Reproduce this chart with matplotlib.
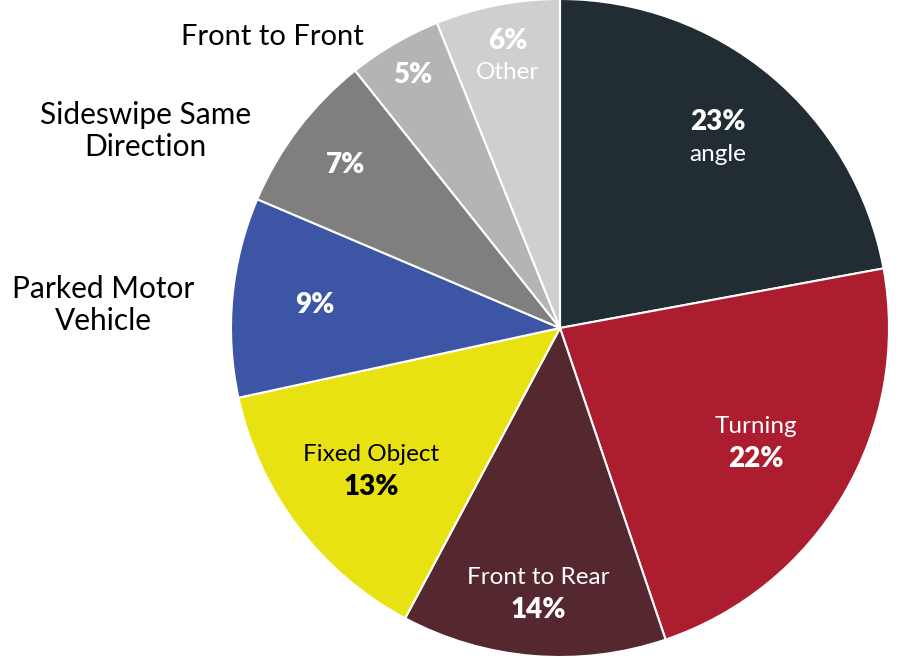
import numpy as np
import matplotlib.pyplot as plt

plt.rcParams['font.family'] = ['Lato', 'DejaVu Sans']

categories = ['angle', 'Turning', 'Front to Rear', 'Fixed Object',
              'Parked Motor Vehicle', 'Sideswipe Same Direction',
              'Front to Front', 'Other']
shares = [22.1, 22.7, 13.0, 13.8, 9.8, 7.9, 4.6, 6.1]
pct_labels = ['23%', '22%', '14%', '13%', '9%', '7%', '5%', '6%']
colors = ['#222d33', '#ab1d2f', '#55282f', '#e9e212',
          '#3d55a5', '#7f7f7f', '#b4b4b4', '#cfcfcf']

# inside text: (name shown inside or None, name on top?, text colour, radial position)
inside = [
    ('angle', False, 'white', 0.75),
    ('Turning', True, 'white', 0.69),
    ('Front to Rear', True, 'white', 0.81),
    ('Fixed Object', True, 'black', 0.72),
    (None, False, 'white', 0.75),
    (None, False, 'white', 0.82),
    (None, False, 'white', 0.89),
    ('Other', False, 'white', 0.84),
]

W, H = 910, 658
cx, cy, R = 560, 328, 329

fig = plt.figure(figsize=(W / 100, H / 100), dpi=100)
ax = fig.add_axes([0, 0, 1, 1])

wedges, _ = ax.pie(shares, colors=colors, startangle=90, counterclock=False,
                   radius=1.0, wedgeprops=dict(edgecolor='white', linewidth=1.5))
ax.set_xlim(-cx / R, (W - cx) / R)
ax.set_ylim(-(H - cy) / R, cy / R)
ax.set_aspect('auto')
ax.axis('off')

for w, pct, (name, name_top, col, rr) in zip(wedges, pct_labels, inside):
    mid = np.deg2rad((w.theta1 + w.theta2) / 2)
    x, y = rr * np.cos(mid), rr * np.sin(mid)
    if name is None:
        ax.text(x, y, pct, ha='center', va='center', color=col,
                fontsize=20, fontweight='heavy')
        continue
    dy_pct, dy_name = (-11.5, 11.5) if name_top else (11.5, -11.5)
    ax.annotate(pct, (x, y), xytext=(0, dy_pct), textcoords='offset points',
                ha='center', va='center', color=col, fontsize=20, fontweight='heavy')
    ax.annotate(name, (x, y), xytext=(0, dy_name), textcoords='offset points',
                ha='center', va='center', color=col, fontsize=17.5)

# outside labels
ax.text(-0.875, 0.884, 'Front to Front', ha='center', va='center', fontsize=21)
ax.text(-1.261, 0.599, 'Sideswipe Same\nDirection', ha='center', va='center',
        fontsize=21.5, linespacing=1.2)
ax.text(-1.389, 0.070, 'Parked Motor\nVehicle', ha='center', va='center',
        fontsize=21.5, linespacing=1.2)

fig.savefig('out.png', dpi=100)
